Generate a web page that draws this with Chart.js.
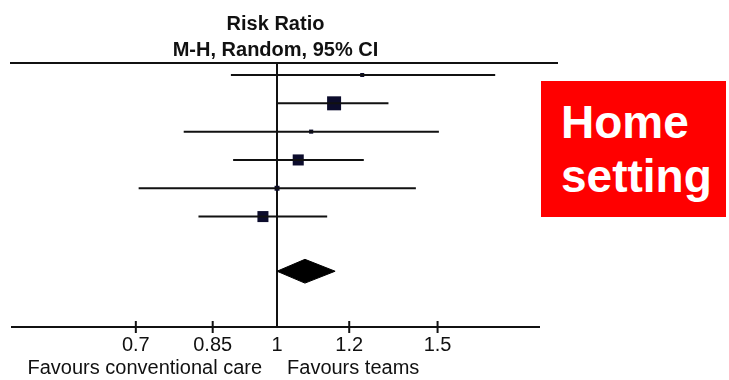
<!DOCTYPE html>
<html>
<head>
<meta charset="utf-8">
<script src="https://cdn.jsdelivr.net/npm/chart.js@4"></script>
<style>
  html, body { margin: 0; padding: 0; background: #fff; }
  #wrap { position: relative; width: 729px; height: 380px; overflow: hidden; }
  #plot { position: absolute; left: 0; top: 0; width: 573px; height: 380px; }
  #tag {
    position: absolute; left: 541px; top: 81px; width: 185px; height: 136px;
    background: #ff0000; color: #fff; box-sizing: border-box;
    padding: 14px 0 0 20px;
    font: bold 46px 'Liberation Sans', Arial, sans-serif; line-height: 54px;
  }
</style>
</head>
<body>
<div id="wrap">
  <div id="plot"><canvas id="forest" width="573" height="380"></canvas></div>
  <div id="tag">Home<br>setting</div>
</div>
<script>
// study rows (top to bottom), risk ratios and 95% CI
const rowIndex  = [1, 2, 3, 4, 5, 6];
const riskRatio = [1.24, 1.155, 1.09, 1.055, 1.0, 0.965];
const ciLower   = [0.89, 1.0, 0.79, 0.895, 0.705, 0.82];
const ciUpper   = [1.735, 1.325, 1.505, 1.245, 1.42, 1.135];
const weights   = [3.3, 39.4, 3.4, 24.6, 4.9, 24.4]; // % weight, sets box size

// pooled estimate (diamond)
const pooledRow   = 7.93;
const pooledRR    = 1.073;
const pooledLower = 1.0;
const pooledUpper = 1.158;

const tickValues = [0.7, 0.85, 1, 1.2, 1.5];
const tickLabels = ['0.7', '0.85', '1', '1.2', '1.5'];

Chart.defaults.font.family = "'Liberation Sans', Arial, sans-serif";
Chart.defaults.color = '#111';

const INK = '#111';
const DIAMOND_H = 0.42;

const ciSets = rowIndex.map((r, i) => ({
  data: [{ x: ciLower[i], y: r }, { x: ciUpper[i], y: r }],
  showLine: true,
  borderColor: INK,
  borderWidth: 2,
  pointRadius: 0
}));

const boxSet = {
  data: rowIndex.map((r, i) => ({ x: riskRatio[i], y: r })),
  pointStyle: 'rect',
  pointRadius: weights.map(w => 2.23 * Math.sqrt(w) / Math.SQRT2),
  backgroundColor: '#0c0c2c',
  borderWidth: 0
};

const diamondSet = {
  data: [
    { x: pooledLower, y: pooledRow },
    { x: pooledRR, y: pooledRow - DIAMOND_H },
    { x: pooledUpper, y: pooledRow },
    { x: pooledRR, y: pooledRow + DIAMOND_H },
    { x: pooledLower, y: pooledRow }
  ],
  showLine: true,
  fill: 'shape',
  borderColor: '#000',
  backgroundColor: '#000',
  borderWidth: 1,
  pointRadius: 0
};

const decor = {
  id: 'decor',
  afterDraw(chart) {
    const { ctx, chartArea } = chart;
    const x = chart.scales.x;
    const one = x.getPixelForValue(1);
    ctx.save();
    ctx.strokeStyle = INK;
    ctx.lineWidth = 2;
    // header rule
    ctx.beginPath();
    ctx.moveTo(10, chartArea.top);
    ctx.lineTo(558, chartArea.top);
    ctx.stroke();
    // tick marks crossing the axis
    tickValues.forEach(v => {
      if (v === 1) return;
      const px = x.getPixelForValue(v);
      ctx.beginPath();
      ctx.moveTo(px, chartArea.bottom - 6);
      ctx.lineTo(px, chartArea.bottom + 6);
      ctx.stroke();
    });
    // favours labels
    ctx.fillStyle = INK;
    ctx.font = "20px 'Liberation Sans', Arial, sans-serif";
    ctx.textBaseline = 'middle';
    ctx.textAlign = 'right';
    ctx.fillText('Favours conventional care', one - 15, 368);
    ctx.textAlign = 'left';
    ctx.fillText('Favours teams', one + 10, 368);
    ctx.restore();
  }
};

new Chart('forest', {
  type: 'scatter',
  data: { datasets: [...ciSets, boxSet, diamondSet] },
  options: {
    responsive: false,
    animation: false,
    layout: { padding: { left: 12, right: 34, top: 0, bottom: 17 } },
    scales: {
      x: {
        type: 'logarithmic',
        min: 0.512,
        max: 1.938,
        afterBuildTicks: s => { s.ticks = tickValues.map(v => ({ value: v })); },
        ticks: {
          callback: v => tickLabels[tickValues.indexOf(v)],
          font: { size: 20 },
          padding: 6,
          autoSkip: false,
          maxRotation: 0
        },
        grid: {
          drawTicks: false,
          lineWidth: 2,
          color: c => (c.tick && c.tick.value === 1 ? INK : 'rgba(0,0,0,0)')
        },
        border: { display: true, color: INK, width: 2 }
      },
      y: { type: 'linear', reverse: true, min: 0.576, max: 9.9, display: false }
    },
    plugins: {
      legend: { display: false },
      tooltip: { enabled: false },
      title: {
        display: true,
        text: ['Risk Ratio', 'M-H, Random, 95% CI'],
        font: { size: 20, weight: 'bold', lineHeight: 1.3 },
        color: INK,
        padding: { top: 11, bottom: 0 }
      }
    }
  },
  plugins: [decor]
});
</script>
</body>
</html>
